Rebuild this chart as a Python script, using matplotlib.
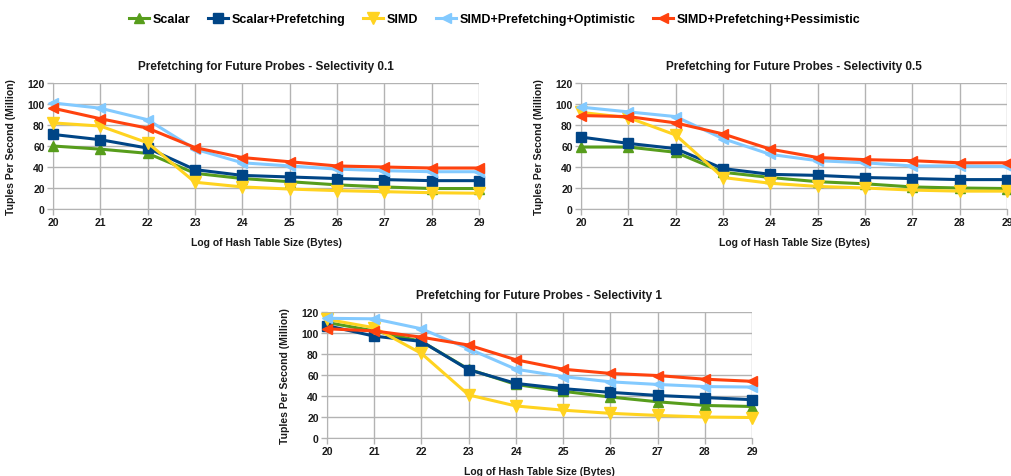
import matplotlib
matplotlib.use("Agg")
import matplotlib.pyplot as plt
from matplotlib.lines import Line2D

plt.rcParams['font.family'] = ['Liberation Sans', 'DejaVu Sans']
plt.rcParams['font.weight'] = 'bold'

x = [20, 21, 22, 23, 24, 25, 26, 27, 28, 29]
series_names = ["Scalar", "Scalar+Prefetching", "SIMD",
                "SIMD+Prefetching+Optimistic", "SIMD+Prefetching+Pessimistic"]

sel01_scalar = [60, 57, 53, 34, 29, 26, 23, 21, 19.5, 19.5]
sel01_scalar_pref = [71, 66, 58, 37.5, 32, 30.5, 29, 28, 27, 27]
sel01_simd = [82, 79, 63, 25.5, 21, 19, 17.5, 16.5, 15.5, 15]
sel01_opt = [101, 96, 85, 57, 44, 41, 38, 36.5, 35.5, 35.5]
sel01_pess = [96, 86, 77, 58.5, 49, 45, 41, 40, 39, 39]

sel05_scalar = [59, 59, 54, 35, 30, 26, 24, 21, 20, 19.5]
sel05_scalar_pref = [68.5, 62.5, 57.5, 38.5, 33, 32, 30, 29, 28, 28]
sel05_simd = [92, 87, 70.5, 30, 24.5, 21.5, 20, 18, 17, 17]
sel05_opt = [97, 92.5, 88, 67, 52, 46, 44, 41, 41, 40.5]
sel05_pess = [89, 88, 82, 71.5, 57, 49, 47, 46, 44, 44]

sel1_scalar = [110, 102, 92, 65.5, 51, 44.5, 39, 34.5, 31, 30]
sel1_scalar_pref = [107, 97, 92, 65, 52, 47, 43.5, 40.5, 38.5, 36.5]
sel1_simd = [113, 105, 80.5, 41, 30.5, 26.5, 23.5, 21.5, 20, 19.5]
sel1_opt = [114, 113.5, 104, 85, 65.5, 58.5, 53.5, 51, 49, 48.5]
sel1_pess = [104, 102, 96, 88.5, 74.5, 65.5, 61.5, 59.5, 56, 54]

titles = ["Prefetching for Future Probes - Selectivity 0.1",
          "Prefetching for Future Probes - Selectivity 0.5",
          "Prefetching for Future Probes - Selectivity 1"]

colors = ["#579d1c", "#004586", "#ffd320", "#83caff", "#ff420e"]
markers = ["^", "s", "v", "<", "<"]
msizes = [7, 7, 8, 7, 7]

datasets = [
    [sel01_scalar, sel01_scalar_pref, sel01_simd, sel01_opt, sel01_pess],
    [sel05_scalar, sel05_scalar_pref, sel05_simd, sel05_opt, sel05_pess],
    [sel1_scalar, sel1_scalar_pref, sel1_simd, sel1_opt, sel1_pess],
]

W, H = 1011, 477
fig = plt.figure(figsize=(W / 100, H / 100), dpi=100)

def rect(l, t, r, b):
    return [l / W, 1 - b / H, (r - l) / W, (b - t) / H]

rects = [rect(53, 84, 479, 210), rect(581, 84, 1007, 210), rect(327, 313, 752, 439)]

grid_c = "#b3b3b3"
for rc, data, title in zip(rects, datasets, titles):
    ax = fig.add_axes(rc)
    for vals, c, m, ms in zip(data, colors, markers, msizes):
        ax.plot(x, vals, color=c, marker=m, markersize=ms, linewidth=2.2,
                clip_on=False, zorder=3)
    ax.set_xlim(20, 29)
    ax.set_ylim(0, 120)
    ax.set_xticks(x)
    ax.set_yticks(range(0, 121, 20))
    ax.grid(True, color=grid_c, linewidth=1)
    ax.set_axisbelow(True)
    for s in ax.spines.values():
        s.set_visible(False)
    ax.spines['left'].set_visible(True)
    ax.spines['left'].set_color(grid_c)
    ax.spines['bottom'].set_visible(True)
    ax.spines['bottom'].set_color(grid_c)
    ax.tick_params(axis='both', colors=grid_c, length=4, width=1,
                   labelsize=7.5, labelcolor="#1a1a1a", pad=2)
    for lab in ax.get_xticklabels() + ax.get_yticklabels():
        lab.set_fontweight('bold')
    ax.set_title(title, fontsize=8.5, fontweight='bold', color="#1a1a1a", pad=10)
    ax.set_xlabel("Log of Hash Table Size (Bytes)", fontsize=7.5,
                  fontweight='bold', color="#1a1a1a", labelpad=7)
    ax.set_ylabel("Tuples Per Second (Million)", fontsize=7.5,
                  fontweight='bold', color="#1a1a1a", labelpad=8)

handles = [Line2D([0], [0], color=c, marker=m, markersize=ms, linewidth=2.2)
           for c, m, ms in zip(colors, markers, msizes)]
fig.legend(handles, series_names, loc='center', bbox_to_anchor=(495 / W, 1 - 20 / H),
           ncol=5, frameon=False, handlelength=1.6, handletextpad=0.3,
           columnspacing=1.4, prop={'weight': 'bold', 'size': 9})

fig.savefig("out.png", dpi=100)
